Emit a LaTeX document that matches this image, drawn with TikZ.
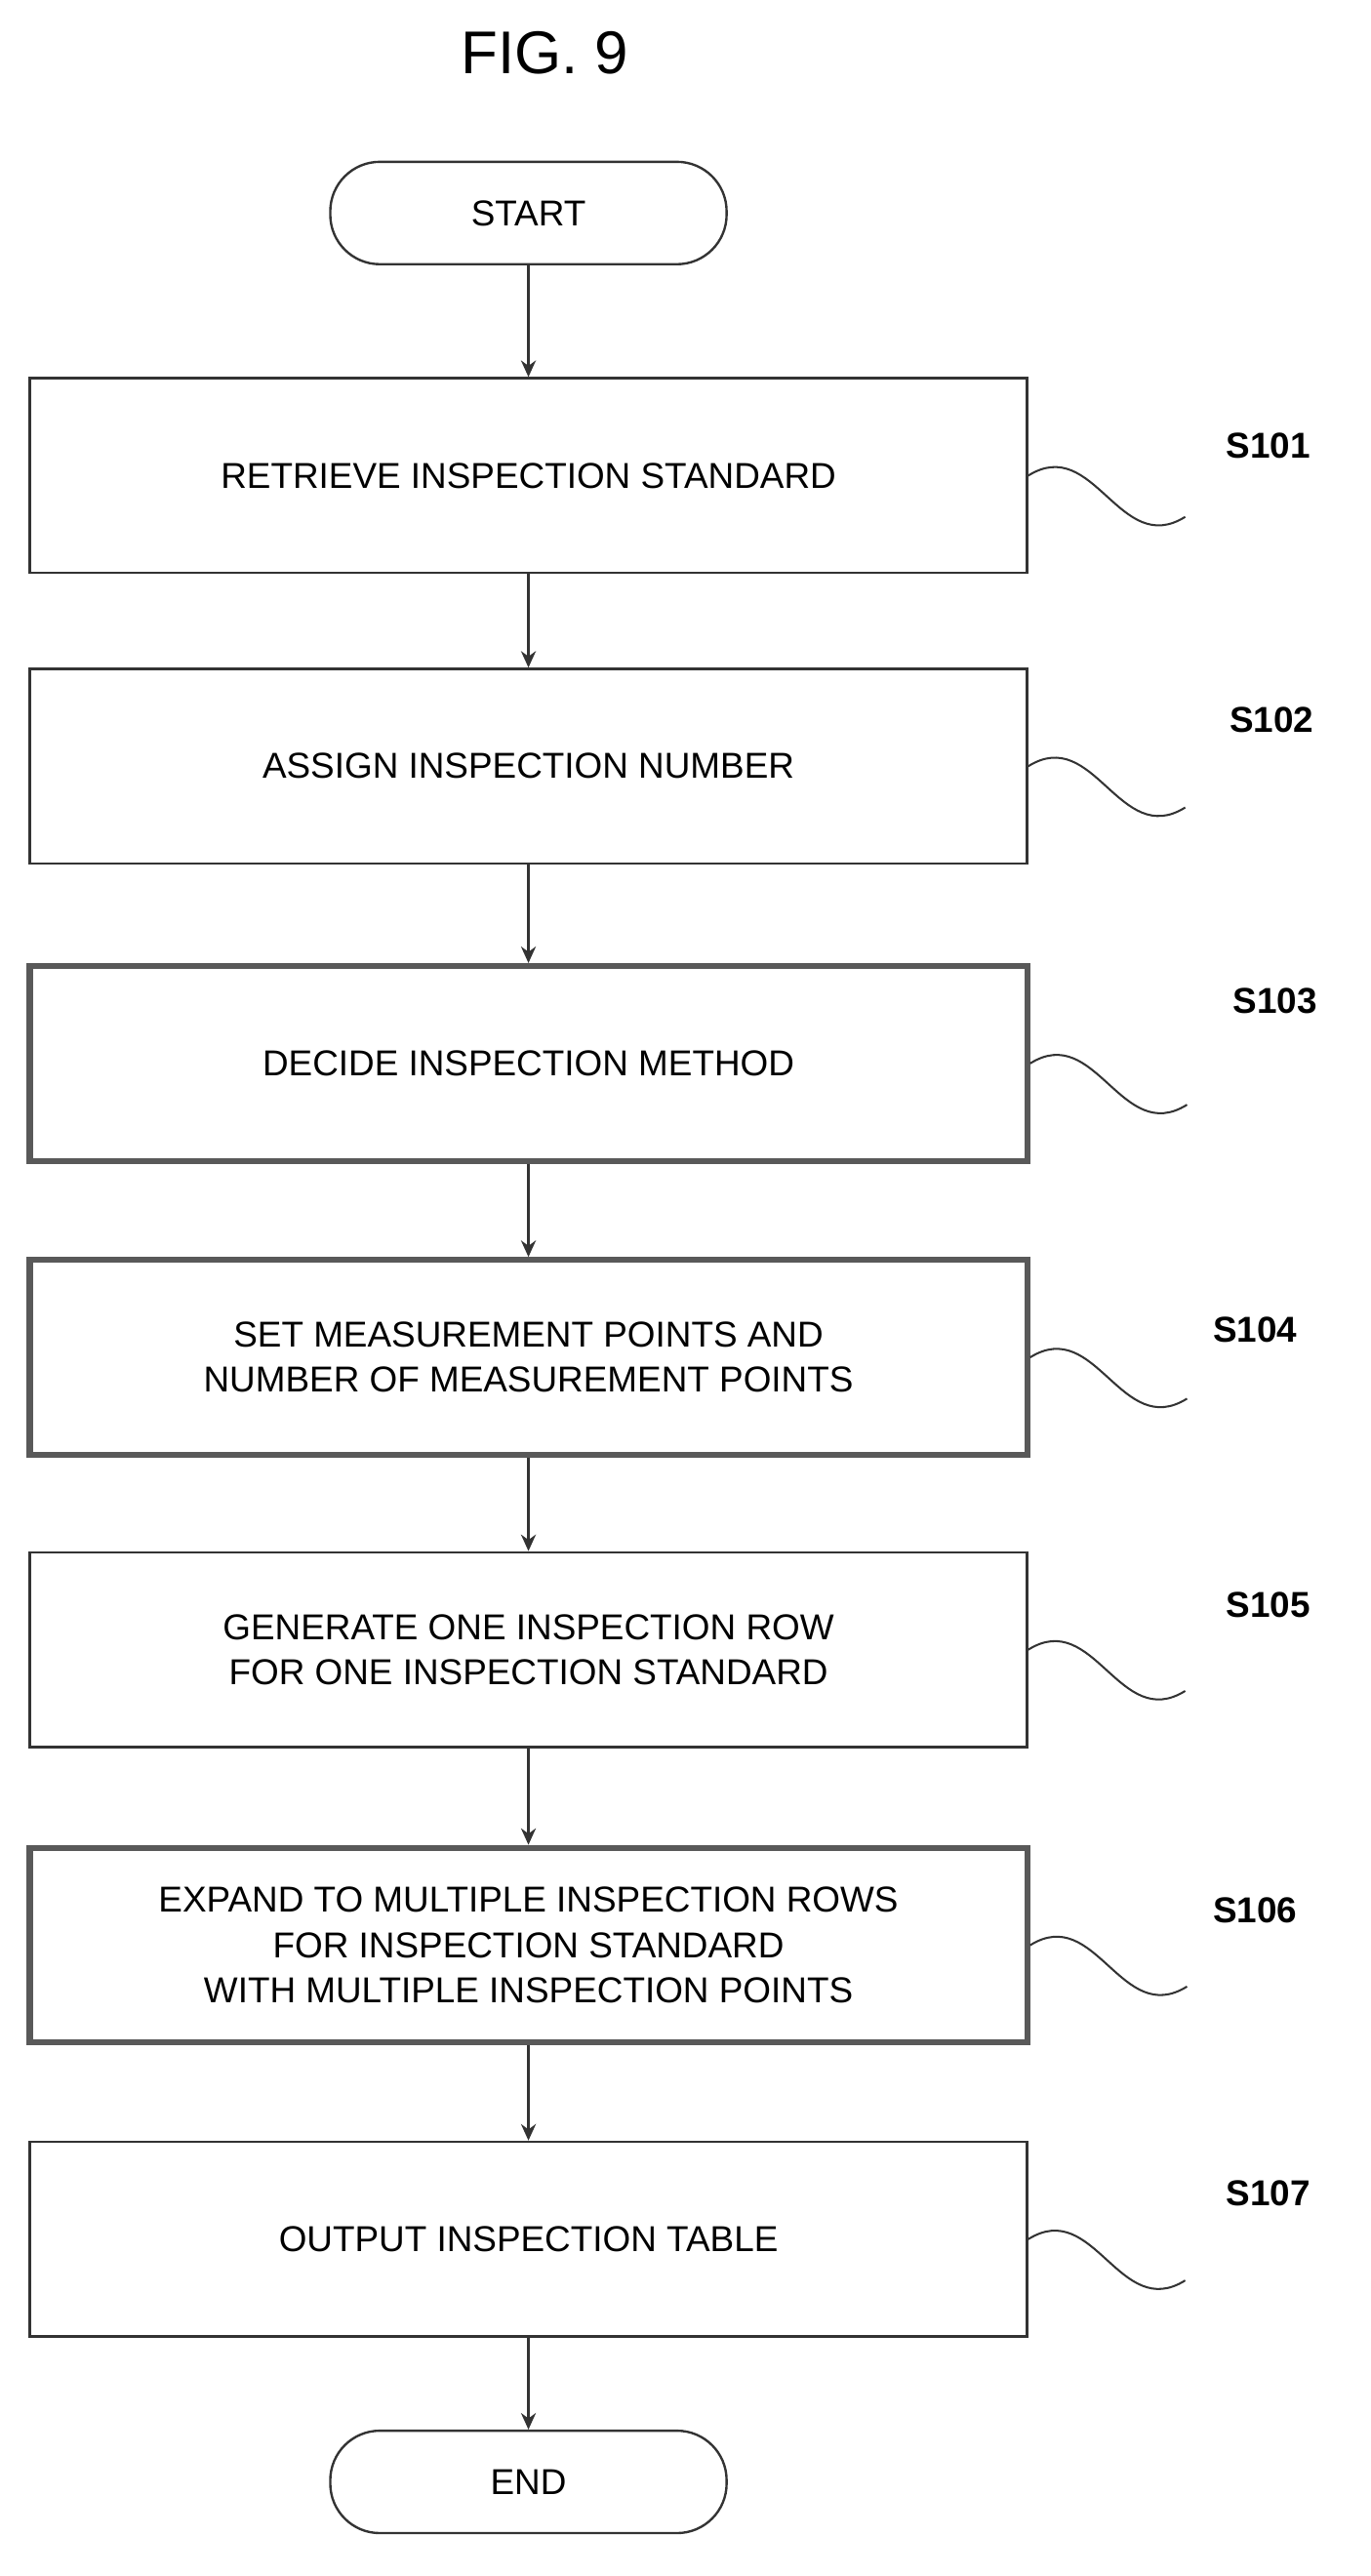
\documentclass[tikz,border=0pt]{standalone}
\usepackage{fontspec}
\setmainfont{Liberation Sans}
\usetikzlibrary{positioning,arrows.meta}
\tikzset{
  procbox/.style={draw=black!80,line width=0.7mm,minimum width=302mm,minimum height=59mm,align=center,inner sep=0pt,font=\fontsize{31}{39}\selectfont},
  thickbox/.style={procbox,line width=1.8mm,draw=black!65},
  term/.style={draw=black!80,line width=0.7mm,rounded corners=15mm,minimum width=120mm,minimum height=31mm,font=\fontsize{31}{36}\selectfont},
  flow/.style={draw=black!80,line width=0.7mm,-{Stealth[length=5mm,width=4.5mm]}},
  tag/.style={font=\fontsize{31}{36}\selectfont\bfseries},
  wave/.style={draw=black!80,line width=0.6mm}
}
\begin{document}
\begin{tikzpicture}[x=0.5mm,y=-0.5mm]
\useasboundingbox (0,0) rectangle (830,1560);
\node[font=\fontsize{52}{60}\selectfont] (title) at (330,32) {FIG. 9};
\node[term] (start) at (320,129) {START};
\node[procbox] (s1) at (320,288) {RETRIEVE INSPECTION STANDARD};
\node[procbox] (s2) at (320,464) {ASSIGN INSPECTION NUMBER};
\node[thickbox] (s3) at (320,644) {DECIDE INSPECTION METHOD};
\node[thickbox] (s4) at (320,822) {SET MEASUREMENT POINTS AND\\NUMBER OF MEASUREMENT POINTS};
\node[procbox] (s5) at (320,999) {GENERATE ONE INSPECTION ROW\\FOR ONE INSPECTION STANDARD};
\node[thickbox] (s6) at (320,1178) {EXPAND TO MULTIPLE INSPECTION ROWS\\FOR INSPECTION STANDARD\\WITH MULTIPLE INSPECTION POINTS};
\node[procbox] (s7) at (320,1356) {OUTPUT INSPECTION TABLE};
\node[term] (end) at (320,1503) {END};
% step tags
\node[tag] (t1) at (768,270) {S101};
\node[tag] (t2) at (770,436) {S102};
\node[tag] (t3) at (772,606) {S103};
\node[tag] (t4) at (760,805) {S104};
\node[tag] (t5) at (768,972) {S105};
\node[tag] (t6) at (760,1157) {S106};
\node[tag] (t7) at (768,1328) {S107};
\foreach \i in {1,...,7}{
  \draw[wave] (s\i.east) .. controls +(40,-25) and +(-40,25) .. ++(95,25);
}
\draw[flow] (start) -- (s1);
\draw[flow] (s1) -- (s2);
\draw[flow] (s2) -- (s3);
\draw[flow] (s3) -- (s4);
\draw[flow] (s4) -- (s5);
\draw[flow] (s5) -- (s6);
\draw[flow] (s6) -- (s7);
\draw[flow] (s7) -- (end);
\end{tikzpicture}
\end{document}
